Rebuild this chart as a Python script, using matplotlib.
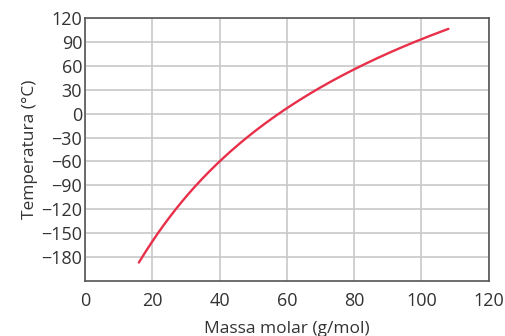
import matplotlib.pyplot as plt
import numpy as np

massa = [16, 18, 20, 25, 30, 35, 40, 50, 60, 70, 80, 90, 100, 108]
temp = [-188, -172, -160, -132, -105, -80, -58, -25, 5, 32, 57, 78, 95, 104]

xticks = [0, 20, 40, 60, 80, 100, 120]
yticks = [-180, -150, -120, -90, -60, -30, 0, 30, 60, 90, 120]

plt.rcParams['font.family'] = ['Open Sans', 'DejaVu Sans']

fig = plt.figure(figsize=(5.06, 3.36), dpi=100)
ax = fig.add_axes([0.168, 0.164, 0.798, 0.782])

# smooth curve through the read points (fit against log of molar mass)
lm = np.log(massa)
coef = np.polyfit(lm, temp, 3)
xs = np.linspace(massa[0], massa[-1], 300)
ax.plot(xs, np.polyval(coef, np.log(xs)), color='#e8304a', lw=1.7,
        solid_capstyle='round')

ax.set_xlim(0, 120)
ax.set_ylim(-210, 120)
ax.set_xticks(xticks)
ax.set_yticks(yticks)
ax.grid(True, color='#c8c8c8', lw=1.2)
ax.set_axisbelow(True)
ax.tick_params(length=0, labelsize=13, colors='#333333')
ax.tick_params(axis='y', pad=2)
ax.tick_params(axis='x', pad=8)
for s in ax.spines.values():
    s.set_color('#555555')
    s.set_linewidth(1.2)

ax.set_xlabel('Massa molar (g/mol)', fontsize=12.5, color='#333333', labelpad=8)
ax.set_ylabel('Temperatura (°C)', fontsize=12.5, color='#333333', labelpad=2)

fig.savefig('out.png', dpi=100)
